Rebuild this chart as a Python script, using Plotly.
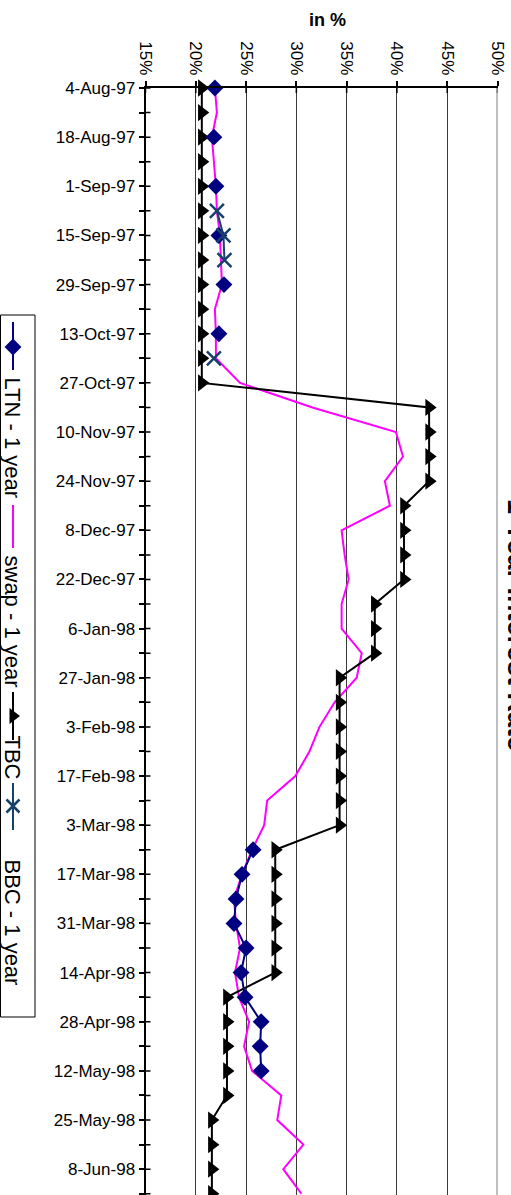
import plotly.graph_objects as go

W, H = 511, 1195

# ---------------- data ----------------
dates = ["4-Aug-97", "11-Aug-97", "18-Aug-97", "25-Aug-97", "1-Sep-97", "8-Sep-97",
         "15-Sep-97", "22-Sep-97", "29-Sep-97", "6-Oct-97", "13-Oct-97", "20-Oct-97",
         "27-Oct-97", "3-Nov-97", "10-Nov-97", "17-Nov-97", "24-Nov-97", "1-Dec-97",
         "8-Dec-97", "15-Dec-97", "22-Dec-97", "29-Dec-97", "6-Jan-98", "20-Jan-98",
         "27-Jan-98", "30-Jan-98", "3-Feb-98", "10-Feb-98", "17-Feb-98", "24-Feb-98",
         "3-Mar-98", "10-Mar-98", "17-Mar-98", "24-Mar-98", "31-Mar-98", "7-Apr-98",
         "14-Apr-98", "21-Apr-98", "28-Apr-98", "5-May-98", "12-May-98", "19-May-98",
         "25-May-98", "1-Jun-98", "8-Jun-98", "15-Jun-98"]

shown_date_labels = ["4-Aug-97", "18-Aug-97", "1-Sep-97", "15-Sep-97", "29-Sep-97",
                     "13-Oct-97", "27-Oct-97", "10-Nov-97", "24-Nov-97", "8-Dec-97",
                     "22-Dec-97", "6-Jan-98", "27-Jan-98", "3-Feb-98", "17-Feb-98",
                     "3-Mar-98", "17-Mar-98", "31-Mar-98", "14-Apr-98", "28-Apr-98",
                     "12-May-98", "25-May-98", "8-Jun-98"]

ltn = [21.9, None, 21.8, None, 22.0, None, 22.3, None, 22.8, None, 22.3, None,
       None, None, None, None, None, None, None, None, None, None, None, None,
       None, None, None, None, None, None, None, 25.7, 24.6, 24.0, 23.8, 25.0,
       24.5, 24.9, 26.5, 26.4, 26.5, None, None, None, None, None]

swap = [21.9, 22.1, 21.6, 21.8, 22.0, 22.1, 22.4, 22.5, 22.6, 21.9, 22.0, 22.0,
        24.4, 31.6, 39.9, 40.6, 38.8, 39.3, 34.5, 34.8, 35.2, 34.5, 34.5, 36.5,
        36.0, 33.8, 32.3, 31.3, 29.9, 27.1, 26.8, 25.6, 24.6, 23.8, 24.0, 24.4,
        23.9, 24.3, 25.3, 24.8, 25.6, 28.5, 28.1, 30.7, 28.7, 30.5]

tbc = [20.6] * 13 + [43.2] * 4 + [40.7] * 4 + [37.8] * 3 + [34.3] * 7 + \
      [27.9] * 6 + [23.1] * 5 + [21.6] * 4

bbc = [None, None, None, None, None, 22.1, 22.75, 22.85, None, None, None, 21.8,
       None, None, None, None, None, None, None, None, None, None, None, None,
       None, None, None, None, None, None, None, None, None, None, None, None,
       None, None, None, None, None, None, None, None, None, None]

value_ticks = [15, 20, 25, 30, 35, 40, 45, 50]
value_tick_labels = ["15%", "20%", "25%", "30%", "35%", "40%", "45%", "50%"]

series_names = ["LTN - 1 year", "swap - 1 year", "TBC", "BBC - 1 year"]

# ---------------- styles ----------------
FONT = "Liberation Sans, Arial, sans-serif"
NAVY = "#000080"
MAGENTA = "#FF00FF"
BLACK = "#000000"
BBCCOL = "#17406A"

PX_L, PX_R, PX_T = 145.5, 497.5, 88
xdom = [PX_L / W, PX_R / W]
ydom = [0, (H - PX_T) / H]

fig = go.Figure()

fig.add_trace(go.Scatter(x=swap, y=dates, mode="lines", name=series_names[1],
                         line=dict(color=MAGENTA, width=2), cliponaxis=False,
                         showlegend=False))
fig.add_trace(go.Scatter(x=tbc, y=dates, mode="lines+markers", name=series_names[2],
                         line=dict(color=BLACK, width=2),
                         marker=dict(symbol="triangle-right", size=15, color=BLACK),
                         cliponaxis=False, showlegend=False))
fig.add_trace(go.Scatter(x=ltn, y=dates, mode="lines+markers", name=series_names[0],
                         line=dict(color=NAVY, width=2),
                         marker=dict(symbol="diamond", size=13, color=NAVY),
                         connectgaps=False, cliponaxis=False, showlegend=False))
fig.add_trace(go.Scatter(x=bbc, y=dates, mode="lines+markers", name=series_names[3],
                         line=dict(color=BBCCOL, width=2),
                         marker=dict(symbol="x-thin", size=14,
                                     line=dict(color=BBCCOL, width=2.5)),
                         connectgaps=False, cliponaxis=False, showlegend=False))

# ---------------- legend (rotated, drawn manually) ----------------
LX = 13
leg_items = [
    # (name, colour, symbol, line y0, line y1, marker y, text centre y)
    (series_names[0], NAVY, "diamond", 322, 370, 347, 438),
    (series_names[1], MAGENTA, None, 505, 548, None, 621),
    (series_names[2], BLACK, "triangle-right", 692, 740, 716, 757),
    (series_names[3], BBCCOL, "x-thin", 783, 830, 806, 922),
]
for name, col, sym, ly0, ly1, my, ty in leg_items:
    fig.add_trace(go.Scatter(x=[LX, LX], y=[ly0, ly1], mode="lines",
                             line=dict(color=col, width=2), xaxis="x2", yaxis="y2",
                             showlegend=False, hoverinfo="skip"))
    if sym is not None:
        mk = dict(symbol=sym, size=14 if sym == "triangle-right" else 13, color=col)
        if sym == "x-thin":
            mk["line"] = dict(color=col, width=2.5)
        fig.add_trace(go.Scatter(x=[LX], y=[my], mode="markers", marker=mk,
                                 xaxis="x2", yaxis="y2", showlegend=False,
                                 hoverinfo="skip", cliponaxis=False))

annotations = []
for name, col, sym, ly0, ly1, my, ty in leg_items:
    annotations.append(dict(text=name, x=LX - 0.5, y=ty, xref="x2", yref="y2",
                            showarrow=False, textangle=90,
                            font=dict(family=FONT, size=22, color="black"),
                            xanchor="center", yanchor="middle"))

annotations.append(dict(text="<b>in %</b>", x=327 / W, y=1 - 20 / H, xref="paper",
                        yref="paper", showarrow=False,
                        font=dict(family=FONT, size=18, color="black"),
                        xanchor="center", yanchor="middle"))
annotations.append(dict(text="<b>1-Year Interest Rate</b>", x=517 / W, y=1 - 625 / H,
                        xref="paper", yref="paper", showarrow=False, textangle=90,
                        font=dict(family=FONT, size=27, color="black"),
                        xanchor="center", yanchor="middle"))

shapes = []
# inner halves of the crossing ticks on the date axis
for d in dates:
    shapes.append(dict(type="line", xref="x", xsizemode="pixel", xanchor=15,
                       x0=0, x1=5, yref="y", y0=d, y1=d,
                       line=dict(color="black", width=1.5), layer="above"))
# inner halves of the crossing ticks on the value axis
for v in value_ticks:
    shapes.append(dict(type="line", xref="x", x0=v, x1=v, yref="y domain",
                       ysizemode="pixel", yanchor=1, y0=-5, y1=0,
                       line=dict(color="black", width=1.5), layer="above"))
# right border of the plot area
shapes.append(dict(type="line", xref="x", x0=50, x1=50, yref="y domain", y0=0, y1=1,
                   line=dict(color="#808080", width=2)))
# legend box
shapes.append(dict(type="rect", xref="x2", yref="y2", x0=0.5, x1=35, y0=315, y1=1017,
                   line=dict(color="black", width=1), fillcolor="rgba(0,0,0,0)"))

ticktext = [d if d in shown_date_labels else "" for d in dates]

fig.update_layout(
    width=W, height=H,
    margin=dict(l=0, r=0, t=0, b=0),
    paper_bgcolor="white", plot_bgcolor="white",
    font=dict(family=FONT, size=17, color="black"),
    showlegend=False,
    xaxis=dict(domain=xdom, range=[15, 50], side="top", anchor="y",
               tickmode="array", tickvals=value_ticks, ticktext=value_tick_labels,
               tickangle=90, ticks="outside", ticklen=5, tickwidth=1.5,
               tickcolor="black", showline=True, linecolor="black", linewidth=1.5,
               showgrid=True, gridcolor="#3a3a3a", gridwidth=1, zeroline=False,
               tickfont=dict(family=FONT, size=17, color="black"), automargin=False),
    yaxis=dict(domain=ydom, type="category", categoryorder="array",
               categoryarray=dates, range=[45.05, 0], anchor="x",
               tickmode="array", tickvals=dates, ticktext=ticktext,
               ticks="outside", ticklen=5, tickwidth=1.5, tickcolor="black",
               showline=True, linecolor="black", linewidth=2, showgrid=False,
               zeroline=False, tickfont=dict(family=FONT, size=17, color="black"),
               automargin=False),
    xaxis2=dict(domain=[0, 40 / W], range=[0, 40], visible=False, anchor="y2",
                fixedrange=True),
    yaxis2=dict(domain=[0, 1], range=[H, 0], visible=False, anchor="x2",
                fixedrange=True),
    annotations=annotations,
    shapes=shapes,
)

fig.write_html("out.html",
               config={"displayModeBar": False},
               post_script="document.body.style.margin='0px';"
                           "document.body.style.overflow='hidden';")
